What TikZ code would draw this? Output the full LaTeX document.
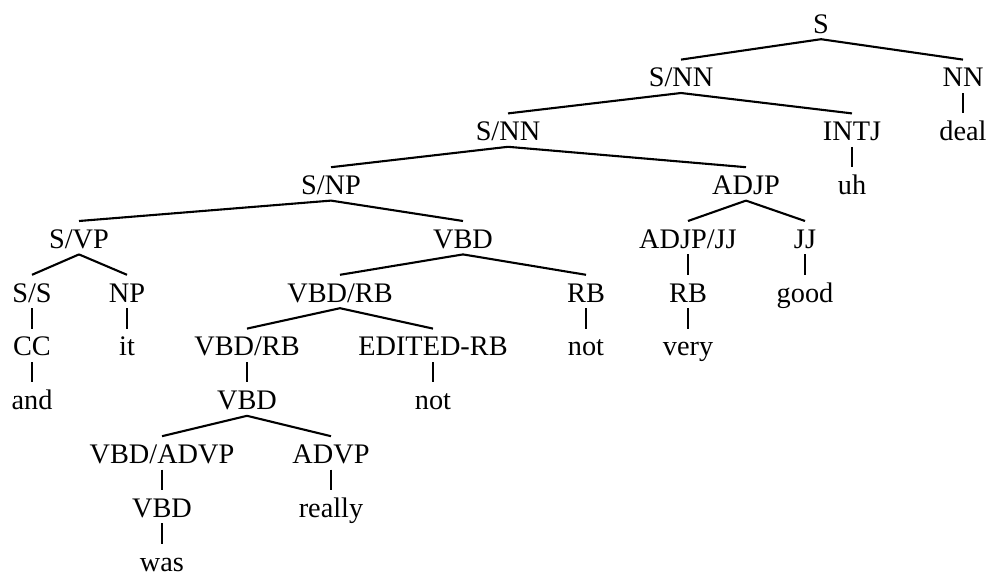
\documentclass[tikz,border=0pt]{standalone}
\usepackage{fontspec}
\setmainfont{Liberation Serif}
\begin{document}
\begin{tikzpicture}[x=1pt,y=-1pt,
  lbl/.style={anchor=base,inner sep=0pt,text height=27pt,text depth=6pt,
    font=\fontsize{28.3}{31}\selectfont},
  edge/.style={line width=2.1pt}]
\useasboundingbox (0,0) rectangle (989,576);
\def\r#1{33+53.8*#1}
% labels, row by row
\node[lbl] (s)      at (821,{\r0}) {S};
\node[lbl] (snn1)   at (681,{\r1}) {S/NN};
\node[lbl] (nn)     at (963,{\r1}) {NN};
\node[lbl] (snn2)   at (508,{\r2}) {S/NN};
\node[lbl] (intj)   at (852,{\r2}) {INTJ};
\node[lbl] (deal)   at (963,{\r2}) {deal};
\node[lbl] (snp)    at (331,{\r3}) {S/NP};
\node[lbl] (adjp)   at (746,{\r3}) {ADJP};
\node[lbl] (uh)     at (852,{\r3}) {uh};
\node[lbl] (svp)    at (79,{\r4}) {S/VP};
\node[lbl] (vbd)    at (463,{\r4}) {VBD};
\node[lbl] (adjpjj) at (688,{\r4}) {ADJP/JJ};
\node[lbl] (jj)     at (805,{\r4}) {JJ};
\node[lbl] (ss)     at (32,{\r5}) {S/S};
\node[lbl] (np)     at (127,{\r5}) {NP};
\node[lbl] (vbdrb)  at (340,{\r5}) {VBD/RB};
\node[lbl] (rb)     at (586,{\r5}) {RB};
\node[lbl] (rbb)    at (688,{\r5}) {RB};
\node[lbl] (good)   at (805,{\r5}) {good};
\node[lbl] (cc)     at (32,{\r6}) {CC};
\node[lbl] (it)     at (127,{\r6}) {it};
\node[lbl] (vbdrbb) at (247,{\r6}) {VBD/RB};
\node[lbl] (edrb)   at (433,{\r6}) {EDITED-RB};
\node[lbl] (not)    at (586,{\r6}) {not};
\node[lbl] (very)   at (688,{\r6}) {very};
\node[lbl] (and)    at (32,{\r7}) {and};
\node[lbl] (vbdb)   at (247,{\r7}) {VBD};
\node[lbl] (notb)   at (433,{\r7}) {not};
\node[lbl] (vbdadvp) at (162,{\r8}) {VBD/ADVP};
\node[lbl] (advp)   at (331,{\r8}) {ADVP};
\node[lbl] (vbdc)   at (162,{\r9}) {VBD};
\node[lbl] (really) at (331,{\r9}) {really};
\node[lbl] (was)    at (162,{\r10}) {was};
% branches
\foreach \p/\c in {s/snn1, s/nn, nn/deal, snn1/snn2, snn1/intj, intj/uh,
  snn2/snp, snn2/adjp, adjp/adjpjj, adjp/jj, adjpjj/rbb, rbb/very, jj/good,
  snp/svp, snp/vbd, svp/ss, svp/np, ss/cc, cc/and, np/it,
  vbd/vbdrb, vbd/rb, rb/not, vbdrb/vbdrbb, vbdrb/edrb, edrb/notb,
  vbdrbb/vbdb, vbdb/vbdadvp, vbdb/advp, vbdadvp/vbdc, vbdc/was, advp/really}
  \draw[edge] (\p.south) -- (\c.north);
\end{tikzpicture}
\end{document}
